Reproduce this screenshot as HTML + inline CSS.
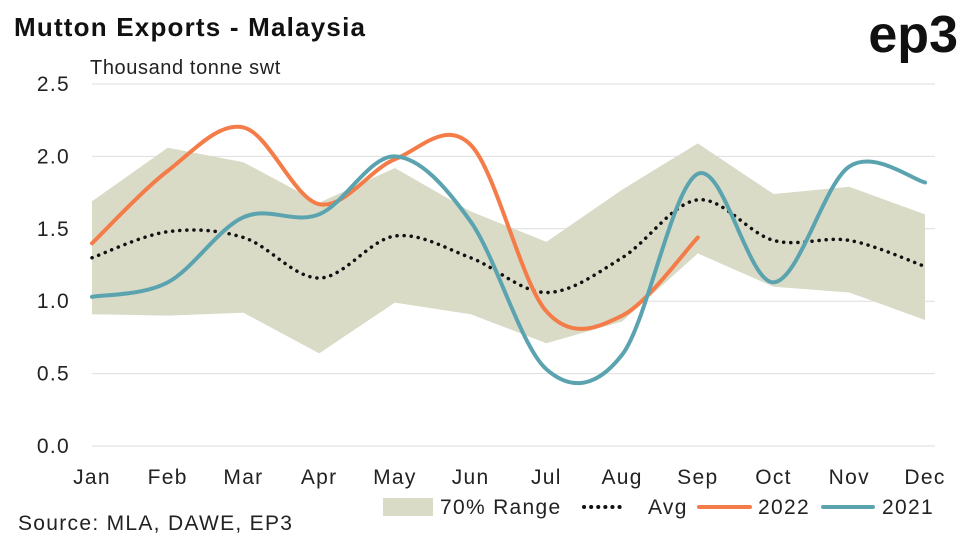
<!DOCTYPE html>
<html><head><meta charset="utf-8"><style>
body{margin:0;background:#fff;font-family:"Liberation Sans",sans-serif}
svg text{font-family:"Liberation Sans",sans-serif;letter-spacing:1.3px}
</style></head><body>
<svg width="962" height="541">
<text x="14" y="36" font-size="26" font-weight="bold" fill="#111" style="letter-spacing:1.2px">Mutton Exports - Malaysia</text>
<text x="958" y="52" font-size="52" font-weight="bold" fill="#111" text-anchor="end" style="letter-spacing:0">ep3</text>
<text x="90" y="74" font-size="20" fill="#222" style="letter-spacing:0.6px">Thousand tonne swt</text>
<g id="grid"></g>
<g id="plot"></g>
<g>
<rect x="383" y="498" width="50" height="18" fill="#D9DBC7"/>
<text x="440" y="514" font-size="21" fill="#222">70% Range</text>
<line x1="584" y1="507" x2="626" y2="507" stroke="#111" stroke-width="4" stroke-dasharray="0.1 7" stroke-linecap="round"/>
<text x="648" y="514" font-size="21" fill="#222">Avg</text>
<line x1="699" y1="507" x2="750" y2="507" stroke="#F47C48" stroke-width="4" stroke-linecap="round"/>
<text x="758" y="514" font-size="21" fill="#222">2022</text>
<line x1="823" y1="507" x2="873" y2="507" stroke="#5BA4AF" stroke-width="4" stroke-linecap="round"/>
<text x="882" y="514" font-size="21" fill="#222">2021</text>
</g>
<text x="18" y="530" font-size="21" fill="#222">Source: MLA, DAWE, EP3</text>
</svg>
<script>
const months=["Jan","Feb","Mar","Apr","May","Jun","Jul","Aug","Sep","Oct","Nov","Dec"];
const yTicks=[0,0.5,1,1.5,2,2.5];
const yTickLabels=["0.0","0.5","1.0","1.5","2.0","2.5"];
const rangeUpper=[1.69,2.06,1.96,1.68,1.92,1.62,1.41,1.77,2.09,1.74,1.79,1.60];
const rangeLower=[0.91,0.90,0.92,0.64,0.99,0.91,0.71,0.86,1.33,1.10,1.06,0.87];
const avg=[1.30,1.48,1.44,1.16,1.45,1.30,1.06,1.30,1.70,1.42,1.42,1.24];
const s2022=[1.40,1.90,2.20,1.67,1.98,2.08,0.93,0.90,1.44];
const s2021=[1.03,1.13,1.58,1.60,2.00,1.55,0.53,0.63,1.88,1.13,1.93,1.82];
const NS="http://www.w3.org/2000/svg";
const x=i=>92+i*(925-92)/11;
const y=v=>446-v*(446-84)/2.5;
function mk(t,a,p){const e=document.createElementNS(NS,t);for(const k in a)e.setAttribute(k,a[k]);p.appendChild(e);return e;}
const grid=document.getElementById('grid'),plot=document.getElementById('plot');
yTicks.forEach((v,i)=>{
 const l=mk('line',{x1:92,x2:935,y1:y(v),y2:y(v),stroke:'#dedede','stroke-width':1},grid);
 
 
 const t=mk('text',{x:70,y:y(v)+7,'font-size':21,fill:'#222','text-anchor':'end'},grid);
 t.textContent=yTickLabels[i];
 
 
});
months.forEach((m,i)=>{
 const t=mk('text',{x:x(i),y:484,'font-size':21,fill:'#222','text-anchor':'middle'},grid);
 t.textContent=m;
 
 
});
function smooth(vals){
 const p=vals.map((v,i)=>[x(i),y(v)]);
 let d=`M${p[0][0]},${p[0][1]}`;
 for(let i=0;i<p.length-1;i++){
  const p0=p[i-1]||p[i],p1=p[i],p2=p[i+1],p3=p[i+2]||p2;
  const c1=[p1[0]+(p2[0]-p0[0])/6,p1[1]+(p2[1]-p0[1])/6];
  const c2=[p2[0]-(p3[0]-p1[0])/6,p2[1]-(p3[1]-p1[1])/6];
  d+=` C${c1[0]},${c1[1]} ${c2[0]},${c2[1]} ${p2[0]},${p2[1]}`;
 }
 return d;
}
let rd='M'+rangeUpper.map((v,i)=>x(i)+','+y(v)).join(' L');
for(let i=rangeLower.length-1;i>=0;i--)rd+=` L${x(i)},${y(rangeLower[i])}`;
const ra=mk('path',{d:rd+'Z',fill:'#D9DBC7'},plot);


const av=mk('path',{d:smooth(avg),fill:'none',stroke:'#111','stroke-width':3.5,'stroke-dasharray':'0.1 7','stroke-linecap':'round'},plot);


const l22=mk('path',{d:smooth(s2022),fill:'none',stroke:'#F47C48','stroke-width':4,'stroke-linecap':'round'},plot);


const l21=mk('path',{d:smooth(s2021),fill:'none',stroke:'#5BA4AF','stroke-width':4,'stroke-linecap':'round'},plot);


</script>
</body></html>
